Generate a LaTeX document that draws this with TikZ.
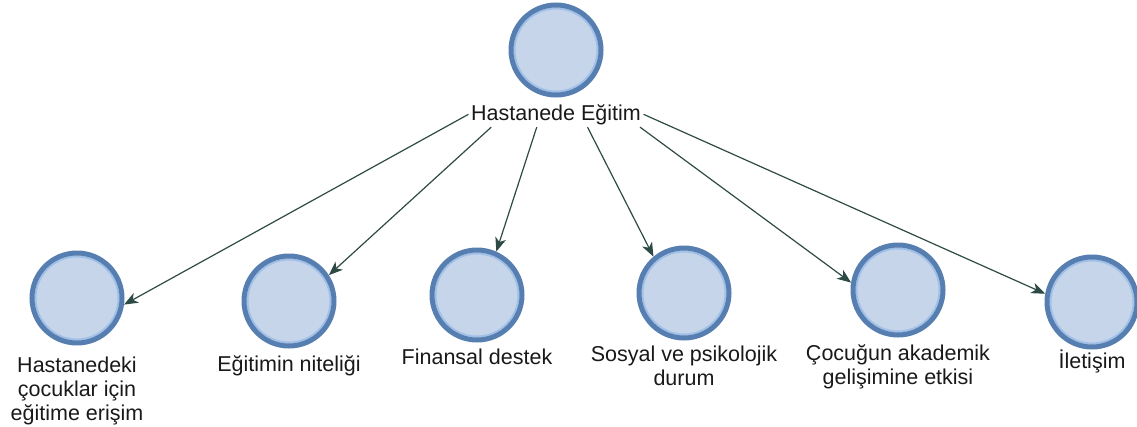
\documentclass[tikz,border=0pt]{standalone}
\usepackage{fontspec}
\setmainfont{Liberation Sans}
\usetikzlibrary{arrows.meta,calc}
\definecolor{cfill}{RGB}{198,213,234}
\definecolor{cring}{RGB}{86,126,176}
\definecolor{cinner}{RGB}{160,192,232}
\definecolor{carrow}{RGB}{46,74,68}
\definecolor{ctext}{RGB}{25,25,25}
\tikzset{
  circ/.style={circle, minimum size=90pt, inner sep=0pt, fill=cfill, draw=cring, line width=5pt,
    path picture={\draw[cinner, line width=2pt] (path picture bounding box.center) circle (41.5pt);}},
  lbl/.style={anchor=base, align=center, inner sep=2.5pt, text=ctext,
    font=\fontsize{21.5pt}{24pt}\selectfont},
  lblm/.style={lbl, anchor=north},
  conn/.style={draw=carrow, line width=1.2pt, -{Stealth[length=14pt,width=11pt,inset=4pt]}}
}
\begin{document}
\begin{tikzpicture}[x=1pt,y=-1pt]
\useasboundingbox (0,0) rectangle (1137,426);
% nodes
\node[circ] (c0) at (556,50) {};
\node[lbl] (t0) at (556,120) {Hastanede Eğitim};
\node[circ] (c1) at (77,298) {};
\node[lblm] (t1) at (77,354) {Hastanedeki\\çocuklar için\\eğitime erişim};
\node[circ] (c2) at (289,301) {};
\node[lbl] (t2) at (289,371) {Eğitimin niteliği};
\node[circ] (c3) at (477,295) {};
\node[lbl] (t3) at (477,364) {Finansal destek};
\node[circ] (c4) at (684,293) {};
\node[lblm] (t4) at (684,343) {Sosyal ve psikolojik\\durum};
\node[circ] (c5) at (898,290) {};
\node[lblm] (t5) at (898,342) {Çocuğun akademik\\gelişimine etkisi};
\node[circ] (c6) at (1092,302) {};
\node[lbl] (t6) at (1092,368) {İletişim};
% connectors
\draw[conn] (t0.west) -- (c1.-8);
\draw[conn] ($(t0.south west)!0.13!(t0.south east)$) -- (c2.33);
\draw[conn] ($(t0.south west)!0.39!(t0.south east)$) -- (c3.66);
\draw[conn] ($(t0.south west)!0.68!(t0.south east)$) -- (c4.130);
\draw[conn] ($(t0.south west)!0.98!(t0.south east)$) -- (c5.171);
\draw[conn] (t0.east) -- (c6.170);
\end{tikzpicture}
\end{document}
